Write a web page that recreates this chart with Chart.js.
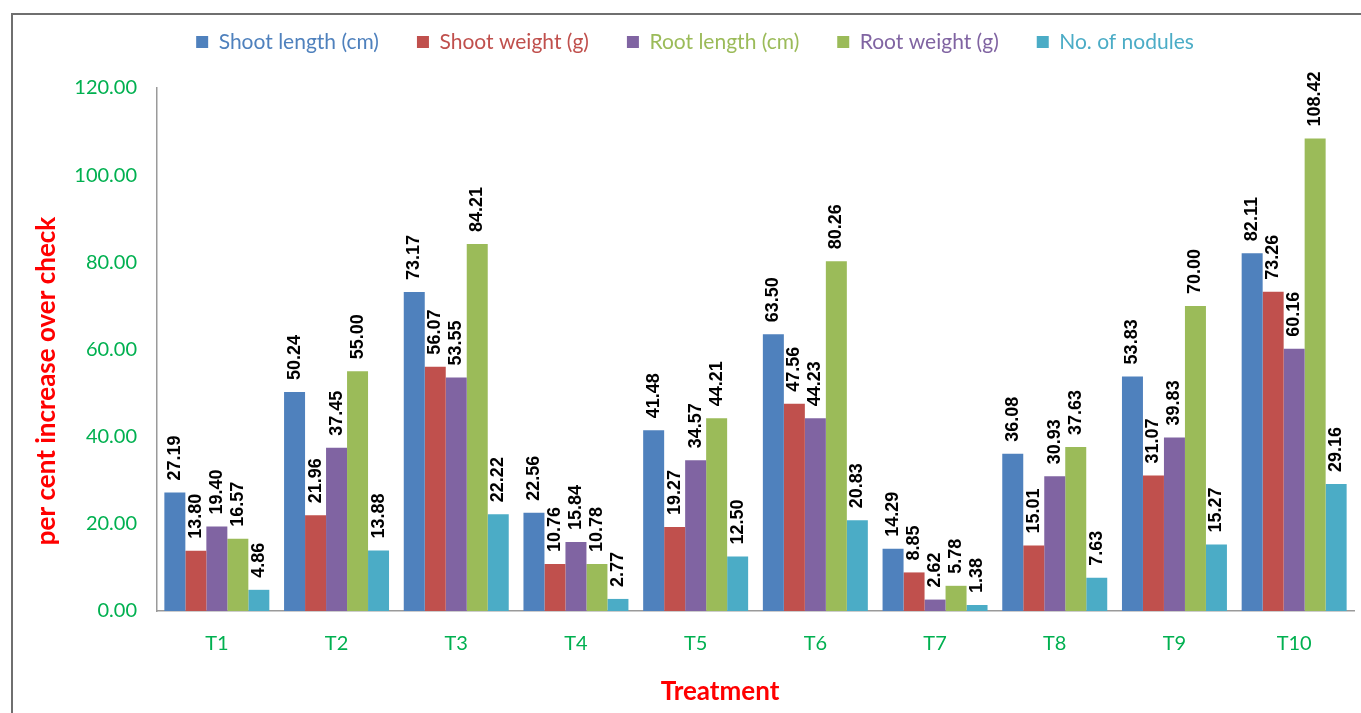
<!DOCTYPE html>
<html>
<head>
<meta charset="utf-8">
<title>Per cent increase over check by treatment</title>
<script src="https://cdn.jsdelivr.net/npm/chart.js@4/dist/chart.umd.min.js"></script>
<style>
  html, body { margin: 0; padding: 0; background: #ffffff; }
  #wrap { position: relative; width: 1361px; height: 713px; }
</style>
</head>
<body>
<div id="wrap"><canvas id="chart" width="1361" height="713"></canvas></div>
<script>
// Treatments on the category axis
const treatments = ['T1', 'T2', 'T3', 'T4', 'T5', 'T6', 'T7', 'T8', 'T9', 'T10'];

// Per cent increase over check, one array per parameter
const shootLength = [27.19, 50.24, 73.17, 22.56, 41.48, 63.50, 14.29, 36.08, 53.83, 82.11];
const shootWeight = [13.80, 21.96, 56.07, 10.76, 19.27, 47.56, 8.85, 15.01, 31.07, 73.26];
const rootLength  = [19.40, 37.45, 53.55, 15.84, 34.57, 44.23, 2.62, 30.93, 39.83, 60.16];
const rootWeight  = [16.57, 55.00, 84.21, 10.78, 44.21, 80.26, 5.78, 37.63, 70.00, 108.42];
const nodules     = [4.86, 13.88, 22.22, 2.77, 12.50, 20.83, 1.38, 7.63, 15.27, 29.16];

// Value axis ticks
const yTicks = [0, 20, 40, 60, 80, 100, 120];

const seriesNames = ['Shoot length (cm)', 'Shoot weight (g)', 'Root length (cm)', 'Root weight (g)', 'No. of nodules'];
const barColors   = ['#4F81BD', '#C0504D', '#8064A2', '#9BBB59', '#4BACC6'];
// legend text colours (root length / root weight texts are swapped in colour)
const legendTextColors = ['#4F81BD', '#C0504D', '#9BBB59', '#8064A2', '#4BACC6'];

const tickGreen = '#00B050';
const titleRed = '#FF0000';
const axisGray = '#9A9A9A';
const uiFont = 'Lato, "Open Sans", sans-serif';

const allSeries = [shootLength, shootWeight, rootLength, rootWeight, nodules];

// outer frame (left and top edges)
const framePlugin = {
  id: 'frame',
  beforeDraw(chart) {
    const ctx = chart.ctx;
    ctx.save();
    ctx.strokeStyle = '#6F6F6F';
    ctx.lineWidth = 2;
    ctx.beginPath();
    ctx.moveTo(12, 713);
    ctx.lineTo(12, 14);
    ctx.lineTo(1361, 14);
    ctx.stroke();
    ctx.restore();
  }
};

// rotated value labels above every bar
const valueLabels = {
  id: 'valueLabels',
  afterDatasetsDraw(chart) {
    const ctx = chart.ctx;
    ctx.save();
    ctx.font = 'bold 18px "Liberation Sans", Arial, sans-serif';
    ctx.fillStyle = '#000000';
    ctx.textAlign = 'left';
    ctx.textBaseline = 'middle';
    chart.data.datasets.forEach((ds, di) => {
      const meta = chart.getDatasetMeta(di);
      meta.data.forEach((bar, i) => {
        const v = ds.data[i];
        ctx.save();
        ctx.translate(bar.x, bar.y - 12);
        ctx.rotate(-Math.PI / 2);
        ctx.fillText(v.toFixed(2), 0, 0);
        ctx.restore();
      });
    });
    ctx.restore();
  }
};

// axis titles
const axisTitles = {
  id: 'axisTitles',
  afterDraw(chart) {
    const ctx = chart.ctx;
    ctx.save();
    ctx.fillStyle = titleRed;
    ctx.font = 'bold 26px ' + uiFont;
    ctx.textAlign = 'center';
    ctx.textBaseline = 'middle';
    ctx.fillText('Treatment', 720, 692);
    ctx.translate(47, 381);
    ctx.rotate(-Math.PI / 2);
    ctx.fillText('per cent increase over check', 0, 0);
    ctx.restore();
  }
};

new Chart(document.getElementById('chart'), {
  type: 'bar',
  data: {
    labels: treatments,
    datasets: allSeries.map((vals, k) => ({
      label: seriesNames[k],
      data: vals,
      backgroundColor: barColors[k],
      borderWidth: 0,
      categoryPercentage: 0.877,
      barPercentage: 1.0
    }))
  },
  options: {
    responsive: false,
    animation: false,
    layout: { padding: { top: -6.5, left: 36, right: 7, bottom: 0 } },
    plugins: {
      tooltip: { enabled: false },
      // empty spacer between the legend and the plot area
      title: {
        display: true,
        text: '',
        weight: 500,
        font: { size: 10, lineHeight: 1 },
        padding: { top: 15.5, bottom: 0 }
      },
      legend: {
        position: 'top',
        labels: {
          boxWidth: 12,
          boxHeight: 12,
          padding: 38,
          font: { family: uiFont, size: 21 },
          generateLabels(chart) {
            return chart.data.datasets.map((ds, i) => ({
              text: ds.label,
              fillStyle: barColors[i],
              strokeStyle: barColors[i],
              lineWidth: 0,
              fontColor: legendTextColors[i],
              hidden: false,
              datasetIndex: i
            }));
          }
        }
      }
    },
    scales: {
      x: {
        offset: true,
        grid: { display: false, drawTicks: false },
        border: { color: axisGray, width: 1.5 },
        ticks: {
          color: tickGreen,
          padding: 21,
          font: { family: uiFont, size: 20 }
        },
        afterFit(s) { s.height = 102; }
      },
      y: {
        min: 0,
        max: 120,
        afterBuildTicks(s) { s.ticks = yTicks.map(v => ({ value: v })); },
        grid: { display: false, drawTicks: false },
        border: { color: axisGray, width: 1.5 },
        ticks: {
          color: tickGreen,
          padding: 20,
          font: { family: uiFont, size: 20 },
          callback: v => Number(v).toFixed(2)
        },
        afterFit(s) { s.width = 121; }
      }
    }
  },
  plugins: [framePlugin, valueLabels, axisTitles]
});
</script>
</body>
</html>
